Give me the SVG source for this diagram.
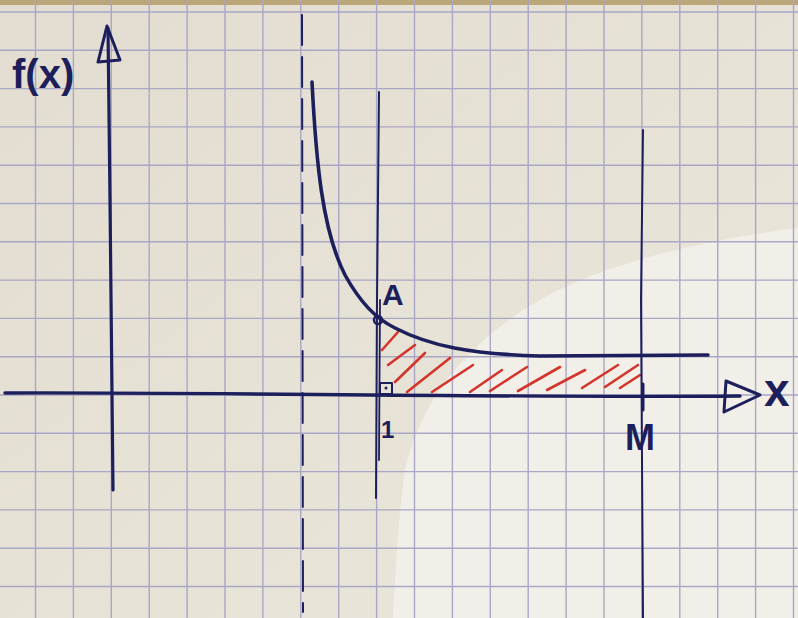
<svg xmlns="http://www.w3.org/2000/svg" width="798" height="618" viewBox="0 0 798 618">
  <style>
    .grid line { stroke: #a9a6c6; stroke-width: 1.4; }
    .ink { stroke: #1d1f5c; fill: none; stroke-linecap: round; stroke-linejoin: round; }
    .hatch line { stroke: #d3352b; stroke-width: 2.6; stroke-linecap: round; }
    .lbl { font-family: "Liberation Sans", "DejaVu Sans", sans-serif; fill: #1d1f5c; font-weight: bold; }
  </style>
  <defs>
    <linearGradient id="paper" x1="0" y1="0" x2="1" y2="1">
      <stop offset="0" stop-color="#e2ddd0"/>
      <stop offset="0.6" stop-color="#e8e3d7"/>
      <stop offset="1" stop-color="#ece7dc"/>
    </linearGradient>
  </defs>

  <g id="paper-bg">
    <rect x="0" y="0" width="798" height="618" fill="url(#paper)"/>
    <path d="M798,228 C700,240 600,265 540,300 C470,340 420,400 405,470 C398,520 395,580 393,618 L798,618 Z" fill="#f2efe8"/>
    <rect x="0" y="0" width="798" height="5" fill="#bba67a"/>
  </g>

  <g id="grid" class="grid">
    <line x1="35.5" y1="0" x2="35.5" y2="618"/>
    <line x1="73.4" y1="0" x2="73.4" y2="618"/>
    <line x1="111.3" y1="0" x2="111.3" y2="618"/>
    <line x1="149.2" y1="0" x2="149.2" y2="618"/>
    <line x1="187.1" y1="0" x2="187.1" y2="618"/>
    <line x1="225" y1="0" x2="225" y2="618"/>
    <line x1="262.9" y1="0" x2="262.9" y2="618"/>
    <line x1="300.8" y1="0" x2="300.8" y2="618"/>
    <line x1="338.7" y1="0" x2="338.7" y2="618"/>
    <line x1="376.6" y1="0" x2="376.6" y2="618"/>
    <line x1="414.5" y1="0" x2="414.5" y2="618"/>
    <line x1="452.4" y1="0" x2="452.4" y2="618"/>
    <line x1="490.3" y1="0" x2="490.3" y2="618"/>
    <line x1="528.2" y1="0" x2="528.2" y2="618"/>
    <line x1="566.1" y1="0" x2="566.1" y2="618"/>
    <line x1="604" y1="0" x2="604" y2="618"/>
    <line x1="641.9" y1="0" x2="641.9" y2="618"/>
    <line x1="679.8" y1="0" x2="679.8" y2="618"/>
    <line x1="717.7" y1="0" x2="717.7" y2="618"/>
    <line x1="755.6" y1="0" x2="755.6" y2="618"/>
    <line x1="793.5" y1="0" x2="793.5" y2="618"/>
    <line x1="0" y1="12" x2="798" y2="12"/>
    <line x1="0" y1="50.3" x2="798" y2="50.3"/>
    <line x1="0" y1="88.6" x2="798" y2="88.6"/>
    <line x1="0" y1="126.9" x2="798" y2="126.9"/>
    <line x1="0" y1="165.2" x2="798" y2="165.2"/>
    <line x1="0" y1="203.5" x2="798" y2="203.5"/>
    <line x1="0" y1="241.8" x2="798" y2="241.8"/>
    <line x1="0" y1="280.1" x2="798" y2="280.1"/>
    <line x1="0" y1="318.4" x2="798" y2="318.4"/>
    <line x1="0" y1="356.7" x2="798" y2="356.7"/>
    <line x1="0" y1="395" x2="798" y2="395"/>
    <line x1="0" y1="433.3" x2="798" y2="433.3"/>
    <line x1="0" y1="471.6" x2="798" y2="471.6"/>
    <line x1="0" y1="509.9" x2="798" y2="509.9"/>
    <line x1="0" y1="548.2" x2="798" y2="548.2"/>
    <line x1="0" y1="586.5" x2="798" y2="586.5"/>
  </g>

  <g id="hatch" class="hatch">
    <line x1="382" y1="350" x2="398" y2="332"/>
    <line x1="388" y1="365" x2="415" y2="345"/>
    <line x1="395" y1="382" x2="425" y2="353"/>
    <line x1="407" y1="392" x2="450" y2="358"/>
    <line x1="432" y1="392" x2="473" y2="365"/>
    <line x1="470" y1="392" x2="502" y2="370"/>
    <line x1="490" y1="391" x2="527" y2="367"/>
    <line x1="518" y1="391" x2="560" y2="367"/>
    <line x1="547" y1="390" x2="585" y2="370"/>
    <line x1="582" y1="388" x2="618" y2="365"/>
    <line x1="605" y1="387" x2="638" y2="365"/>
    <line x1="620" y1="388" x2="640" y2="375"/>
  </g>

  <g id="y-axis">
    <path class="ink" stroke-width="3.2" d="M113,490 L110,200 L108,28"/>
    <path class="ink" stroke-width="3" d="M107,26 L98,62 L120,60 Z"/>
  </g>

  <g id="x-axis">
    <path class="ink" stroke-width="3.4" d="M5,393 C200,392 500,398 740,396"/>
    <path class="ink" stroke-width="3" d="M726,381 L760,395 L724,412 Z"/>
  </g>

  <g id="asymptote">
    <line class="ink" stroke-width="2" stroke-dasharray="30 12" x1="302" y1="15" x2="303" y2="612"/>
  </g>

  <g id="line-x1">
    <path class="ink" stroke-width="2" d="M379,92 L377,300 L376,498"/>
    <path class="ink" stroke-width="1.8" d="M380,300 L379,460"/>
  </g>

  <g id="line-xM">
    <path class="ink" stroke-width="2" d="M643,130 L641,300 L643,618"/>
    <line class="ink" stroke-width="3" x1="643" y1="384" x2="643" y2="410"/>
  </g>

  <g id="curve">
    <path class="ink" stroke-width="3.6" d="M312,82 C316,160 322,230 345,275 C360,302 375,318 395,328 C430,346 470,354 540,356 L708,355"/>
  </g>

  <g id="point-A">
    <circle class="ink" stroke-width="2.5" cx="378" cy="320" r="4"/>
    <text class="lbl" x="382" y="305" font-size="30">A</text>
  </g>

  <g id="right-angle">
    <rect class="ink" stroke-width="2" x="380" y="383" width="12" height="11"/>
    <circle cx="386" cy="388" r="1.5" fill="#1d1f5c"/>
  </g>

  <g id="labels">
    <text class="lbl" x="12" y="88" font-size="40">f(x)</text>
    <text class="lbl" x="764" y="406" font-size="46">x</text>
    <text class="lbl" x="381" y="438" font-size="24">1</text>
    <text class="lbl" x="625" y="450" font-size="36">M</text>
  </g>
</svg>
